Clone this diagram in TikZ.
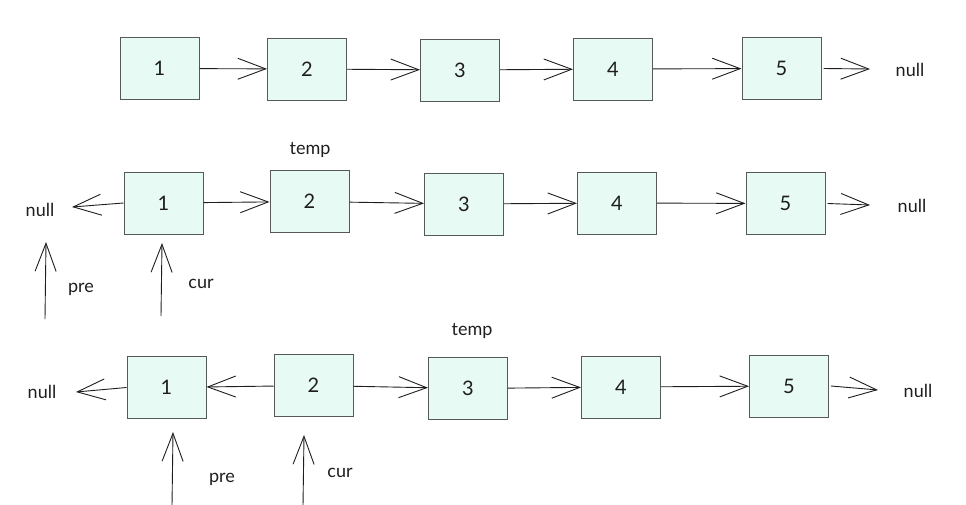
\documentclass[tikz,border=0pt]{standalone}
\usepackage{fontspec}
\setmainfont{Lato}
\usetikzlibrary{arrows.meta}
\definecolor{nodefill}{RGB}{232,250,244}
\definecolor{nodeline}{RGB}{85,90,88}
\definecolor{ink}{RGB}{30,30,30}
\tikzset{
  listnode/.style={draw=nodeline, fill=nodefill, line width=1pt,
    minimum width=79pt, minimum height=62pt, inner sep=0pt,
    font=\fontsize{20}{20}\selectfont, text=ink},
  lbl/.style={font=\fontsize{18}{18}\selectfont, text=ink, inner sep=0pt},
  link/.style={draw=ink, line width=0.9pt,
    -{Straight Barb[length=28pt, width=21pt, line width=0.9pt]}},
}
\begin{document}
\begin{tikzpicture}[x=1pt, y=-1pt]
\useasboundingbox (0,0) rectangle (966,504);

% first list: 1 -> 2 -> 3 -> 4 -> 5 -> null
\node[listnode] (a1) at (159.5,68.5) {1};
\node[listnode] (a2) at (307,69) {2};
\node[listnode] (a3) at (460,70) {3};
\node[listnode] (a4) at (613,69) {4};
\node[listnode] (a5) at (781.5,68.5) {5};
\node[lbl] (anull) at (910,70) {null};
\draw[link] (a1) -- (a2);
\draw[link] (a2) -- (a3);
\draw[link] (a3) -- (a4);
\draw[link] (a4) -- (a5);
\coordinate (aend) at (870,69);
\draw[link] (a5.east) ++(2,0) -- (aend);

% second list: first link reversed to null
\node[listnode] (b1) at (163.5,203) {1};
\node[listnode] (b2) at (309.5,201.5) {2};
\node[listnode] (b3) at (464,204) {3};
\node[listnode] (b4) at (617,203) {4};
\node[listnode] (b5) at (785.5,203.5) {5};
\node[lbl] (bnullL) at (40,210) {null};
\node[lbl] (bnullR) at (912,206) {null};
\node[lbl] (btemp) at (310,150) {temp};
\coordinate (bend) at (870,205);
\coordinate (bleft) at (72,207);
\draw[link] (b1.west) -- (bleft);
\draw[link] (b1) -- (b2);
\draw[link] (b2) -- (b3);
\draw[link] (b3) -- (b4);
\draw[link] (b4) -- (b5);
\draw[link] (b5.east) ++(2,0) -- (bend);
\coordinate (bpreS) at (45,319);
\coordinate (bpreE) at (46,242);
\coordinate (bcurS) at (161,316);
\coordinate (bcurE) at (162,243);
\draw[link] (bpreS) -- (bpreE);
\draw[link] (bcurS) -- (bcurE);
\node[lbl] (bpre) at (81,289) {pre};
\node[lbl] (bcur) at (201,284) {cur};

% third list: 2 now points back to 1
\node[listnode] (c1) at (166.5,387.5) {1};
\node[listnode] (c2) at (313.5,385.5) {2};
\node[listnode] (c3) at (468,388.5) {3};
\node[listnode] (c4) at (621,387) {4};
\node[listnode] (c5) at (789,386) {5};
\node[lbl] (cnullL) at (42,392) {null};
\node[lbl] (cnullR) at (918,391) {null};
\node[lbl] (ctemp) at (472,331) {temp};
\coordinate (cleft) at (76,392);
\coordinate (cend) at (878,390);
\draw[link] (c1.west) -- (cleft);
\draw[link] (c2) -- (c1);
\draw[link] (c2) -- (c3);
\draw[link] (c3) -- (c4);
\draw[link] (c4) -- (c5);
\draw[link] (c5.east) ++(2,0) -- (cend);
\coordinate (cpreS) at (172,506);
\coordinate (cpreE) at (173,432);
\coordinate (ccurS) at (303,506);
\coordinate (ccurE) at (304,435);
\draw[link] (cpreS) -- (cpreE);
\draw[link] (ccurS) -- (ccurE);
\node[lbl] (cpre) at (222,479) {pre};
\node[lbl] (ccur) at (340,473) {cur};
\end{tikzpicture}
\end{document}
